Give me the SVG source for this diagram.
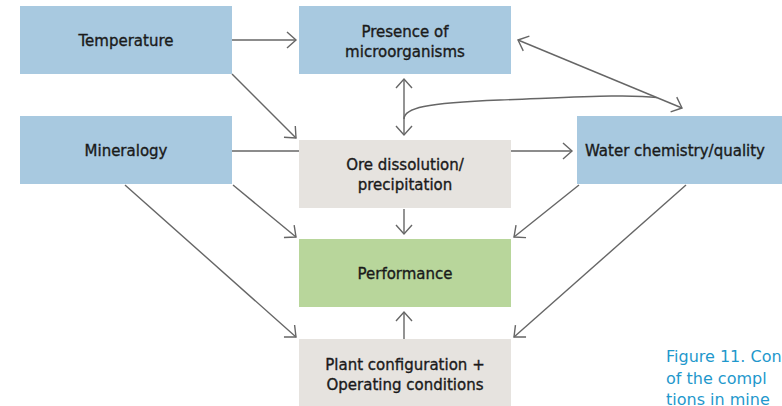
<svg xmlns="http://www.w3.org/2000/svg" width="782" height="406" viewBox="0 0 782 406">
<defs>
<marker id="arr" markerUnits="userSpaceOnUse" markerWidth="24" markerHeight="24" refX="0" refY="0" viewBox="-12 -12 24 24" orient="auto-start-reverse" overflow="visible">
<path d="M-9,-8 L0,0 L-9,8" fill="none" stroke="#666" stroke-width="1.4"/>
</marker>
<style>
.blue{fill:#a8c9e0}
.grey{fill:#e6e3df}
.green{fill:#b8d69b}
.t{font-family:"DejaVu Sans","Liberation Sans",sans-serif;font-size:15px;fill:#1a1a1a;stroke:#1a1a1a;stroke-width:0.35px;text-anchor:middle}
.c{fill:none;stroke:#666;stroke-width:1.4}
.cap{font-family:"DejaVu Sans","Liberation Sans",sans-serif;font-size:16px;fill:#1f98cc}
</style>
</defs>
<rect width="782" height="406" fill="#fff"/>
<g id="temperature"><rect class="blue" x="20" y="6" width="212" height="68"/><text class="t" x="126" y="46">Temperature</text></g>
<g id="presence"><rect class="blue" x="299" y="6" width="212" height="68"/><text class="t" x="405" y="37">Presence of</text><text class="t" x="405" y="57">microorganisms</text></g>
<g id="mineralogy"><rect class="blue" x="20" y="116" width="212" height="68"/><text class="t" x="126" y="156">Mineralogy</text></g>
<g id="ore"><rect class="grey" x="299" y="140" width="212" height="68"/><text class="t" x="405" y="170">Ore dissolution/</text><text class="t" x="405" y="190">precipitation</text></g>
<g id="water"><rect class="blue" x="577" y="116" width="210" height="68"/><text class="t" x="585" y="156" style="text-anchor:start">Water chemistry/quality</text></g>
<g id="performance"><rect class="green" x="299" y="239" width="212" height="68"/><text class="t" x="405" y="279">Performance</text></g>
<g id="plant"><rect class="grey" x="299" y="339" width="212" height="70"/><text class="t" x="405" y="370">Plant configuration +</text><text class="t" x="405" y="390">Operating conditions</text></g>
<g id="connectors">
<path class="c" d="M232,40 L296,40" marker-end="url(#arr)"/>
<path class="c" d="M232,74 L296,138" marker-end="url(#arr)"/>
<path class="c" d="M232,151 L299,151"/>
<path class="c" d="M233,185 L296,237" marker-end="url(#arr)"/>
<path class="c" d="M125,185 L296,337" marker-end="url(#arr)"/>
<path class="c" d="M404,79 L404,135" marker-start="url(#arr)" marker-end="url(#arr)"/>
<path class="c" d="M404,119 C404,108 425,103 500,100 C580,97 630,94 657,97.6"/>
<path class="c" d="M682,108 L518,40" marker-start="url(#arr)" marker-end="url(#arr)"/>
<path class="c" d="M511,151 L572,151" marker-end="url(#arr)"/>
<path class="c" d="M404,209 L404,234" marker-end="url(#arr)"/>
<path class="c" d="M579,185 L514,237" marker-end="url(#arr)"/>
<path class="c" d="M686,185 L514,337" marker-end="url(#arr)"/>
<path class="c" d="M404,339 L404,312" marker-end="url(#arr)"/>
</g>
<g id="caption">
<text class="cap" x="666" y="362">Figure 11. Con</text>
<text class="cap" x="666" y="384">of the compl</text>
<text class="cap" x="666" y="405">tions in mine</text>
</g>
</svg>
